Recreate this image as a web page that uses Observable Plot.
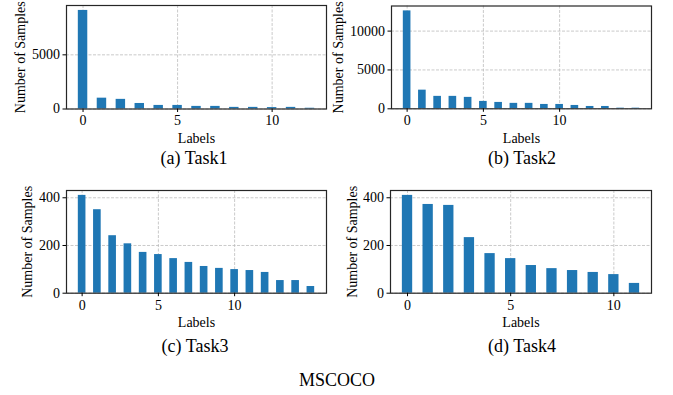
<!DOCTYPE html>
<html><head><meta charset="utf-8">
<script src="https://cdn.jsdelivr.net/npm/d3@7"></script>
<script src="https://cdn.jsdelivr.net/npm/@observablehq/plot@0.6"></script>
<style>
body{margin:0;background:#fff;}
#root{position:relative;width:673px;height:395px;font-family:"Liberation Serif","Times New Roman",serif;color:#000;overflow:hidden;}
.panel{position:absolute;}
.panel svg text{font-family:"Liberation Serif","Times New Roman",serif !important;}
.cap{position:absolute;font-size:18px;transform:translate(-50%,-50%);white-space:nowrap;color:#000;}
</style></head><body><div id="root"></div>
<script>
// ---- data ----
const task1Labels = [0,1,2,3,4,5,6,7,8,9,10,11,12];
const task1Counts = [9100,1000,890,510,330,330,240,240,150,150,130,150,70];
const task2Labels = [0,1,2,3,4,5,6,7,8,9,10,11,12,13,14,15];
const task2Counts = [12600,2400,1600,1600,1470,950,820,700,700,560,560,430,300,300,80,80];
const task3Labels = [0,1,2,3,4,5,6,7,8,9,10,11,12,13,14,15];
const task3Counts = [410,350,241,207,171,162,145,129,112,104,99,95,87,53,53,28];
const task4Labels = [0,1,2,3,4,5,6,7,8,9,10,11];
const task4Counts = [410,372,368,233,166,145,116,103,95,87,78,41];
const xTicks = [0,5,10];
const yTicks1 = [0,5000];
const yTicks2 = [0,5000,10000];
const yTicks34 = [0,200,400];
const captions = ["(a) Task1","(b) Task2","(c) Task3","(d) Task4"];
const mainTitle = "MSCOCO";

const root = document.getElementById("root");
const FONT = '"Liberation Serif","Times New Roman",serif';

function panel({labels, counts, yTicks, box:[L,T,W,H], frame:[fx0,fy0,fx1,fy1], yLabelOffset}) {
  const data = labels.map((l,i)=>({label:l, count:counts[i]}));
  const n = labels.length;
  const span = (n-1) + 0.5;
  const xDomain = [-0.25 - 0.05*span, (n-1) + 0.25 + 0.05*span];
  const yDomain = [0, d3.max(counts)*1.05];
  const grid = {stroke:"#bdbdbd", strokeOpacity:1, strokeWidth:0.8, strokeDasharray:"3,1.5"};
  const chart = Plot.plot({
    width: W, height: H,
    marginLeft: fx0-L, marginRight: L+W-fx1, marginTop: fy0-T, marginBottom: T+H-fy1,
    style:{fontFamily:FONT, fontSize:"14px", color:"#000", background:"transparent", overflow:"visible"},
    x:{domain:xDomain},
    y:{domain:yDomain},
    marks:[
      Plot.gridY(yTicks, grid),
      Plot.gridX(xTicks, grid),
      Plot.rectY(data, {x1:d=>d.label-0.25, x2:d=>d.label+0.25, y1:0, y2:"count", fill:"#1f77b4"}),
      Plot.frame({stroke:"#262626", strokeWidth:1.2}),
      Plot.axisX(xTicks, {tickSize:3.5, tickPadding:3, fontSize:14, fontFamily:FONT, fontVariant:"normal", tickFormat:d3.format("d"),
        label:"Labels", labelArrow:"none", labelAnchor:"center", labelOffset:34}),
      Plot.axisY(yTicks, {tickSize:3.5, tickPadding:3, fontSize:14, fontFamily:FONT, fontVariant:"normal", tickFormat:d3.format("d"),
        label:"Number of Samples", labelArrow:"none", labelAnchor:"center", labelOffset:yLabelOffset})
    ]
  });
  const div = document.createElement("div");
  div.className = "panel";
  div.style.left = L+"px"; div.style.top = T+"px";
  div.appendChild(chart);
  root.appendChild(div);
}

panel({labels:task1Labels, counts:task1Counts, yTicks:yTicks1, box:[0,0,333,150], frame:[66,5,326,108.5], yLabelOffset:51});
panel({labels:task2Labels, counts:task2Counts, yTicks:yTicks2, box:[322,0,351,150], frame:[391,5.5,651,108.3], yLabelOffset:58});
panel({labels:task3Labels, counts:task3Counts, yTicks:yTicks34, box:[0,172,333,165], frame:[66,190,326,292.7], yLabelOffset:44});
panel({labels:task4Labels, counts:task4Counts, yTicks:yTicks34, box:[322,172,351,165], frame:[390,190,651,292.7], yLabelOffset:43});

function cap(text, x, y) {
  const d = document.createElement("div");
  d.className = "cap";
  d.textContent = text;
  d.style.left = x+"px"; d.style.top = y+"px";
  root.appendChild(d);
}
cap(captions[0], 194, 158);
cap(captions[1], 522, 158);
cap(captions[2], 195, 346);
cap(captions[3], 522, 346);
cap(mainTitle, 337, 380);
</script></body></html>
